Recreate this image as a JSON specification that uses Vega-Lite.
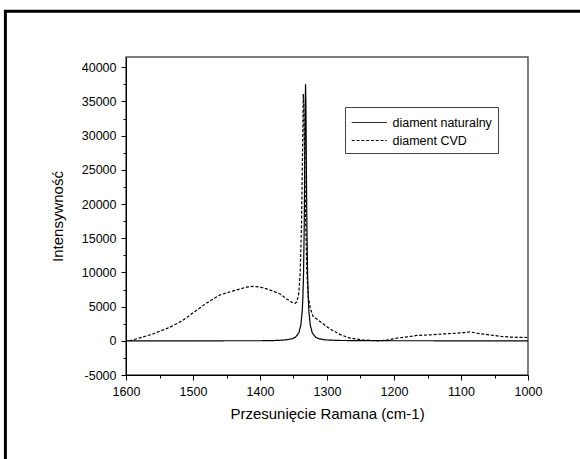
{
  "$schema": "https://vega.github.io/schema/vega-lite/v6.json",
  "width": 402,
  "height": 318,
  "autosize": {"type": "none"},
  "padding": {"left": 126, "top": 57, "right": 52, "bottom": 84},
  "background": "white",
  "config": {
    "view": {"stroke": "#555", "strokeWidth": 1.5},
    "font": "Liberation Sans",
    "axis": {"labelFont": "Liberation Sans", "titleFont": "Liberation Sans", "labelColor": "black", "titleColor": "black", "domainColor": "black", "tickColor": "black", "titleFontWeight": "normal", "grid": false}
  },
  "datasets": {
    "spectra": [
      {"series": "diament naturalny", "x": 1600, "y": 0},
      {"series": "diament naturalny", "x": 1500, "y": 0},
      {"series": "diament naturalny", "x": 1400, "y": 10},
      {"series": "diament naturalny", "x": 1382, "y": 20},
      {"series": "diament naturalny", "x": 1362, "y": 130},
      {"series": "diament naturalny", "x": 1352, "y": 300},
      {"series": "diament naturalny", "x": 1347, "y": 530},
      {"series": "diament naturalny", "x": 1342, "y": 1175},
      {"series": "diament naturalny", "x": 1339, "y": 2330},
      {"series": "diament naturalny", "x": 1337, "y": 4300},
      {"series": "diament naturalny", "x": 1336, "y": 6310},
      {"series": "diament naturalny", "x": 1335, "y": 9920},
      {"series": "diament naturalny", "x": 1334, "y": 16780},
      {"series": "diament naturalny", "x": 1333.5, "y": 22140},
      {"series": "diament naturalny", "x": 1333, "y": 28650},
      {"series": "diament naturalny", "x": 1332.5, "y": 34800},
      {"series": "diament naturalny", "x": 1332, "y": 37500},
      {"series": "diament naturalny", "x": 1331.5, "y": 34800},
      {"series": "diament naturalny", "x": 1331, "y": 28650},
      {"series": "diament naturalny", "x": 1330.5, "y": 22140},
      {"series": "diament naturalny", "x": 1330, "y": 16780},
      {"series": "diament naturalny", "x": 1329, "y": 9920},
      {"series": "diament naturalny", "x": 1328, "y": 6310},
      {"series": "diament naturalny", "x": 1327, "y": 4300},
      {"series": "diament naturalny", "x": 1325, "y": 2330},
      {"series": "diament naturalny", "x": 1322, "y": 1175},
      {"series": "diament naturalny", "x": 1317, "y": 530},
      {"series": "diament naturalny", "x": 1312, "y": 300},
      {"series": "diament naturalny", "x": 1302, "y": 130},
      {"series": "diament naturalny", "x": 1282, "y": 50},
      {"series": "diament naturalny", "x": 1232, "y": 15},
      {"series": "diament naturalny", "x": 1100, "y": 0},
      {"series": "diament naturalny", "x": 1000, "y": 0},
      {"series": "diament CVD", "x": 1595, "y": 0},
      {"series": "diament CVD", "x": 1580, "y": 400},
      {"series": "diament CVD", "x": 1560, "y": 1000},
      {"series": "diament CVD", "x": 1534, "y": 2000},
      {"series": "diament CVD", "x": 1515, "y": 3000},
      {"series": "diament CVD", "x": 1500, "y": 4100},
      {"series": "diament CVD", "x": 1480, "y": 5500},
      {"series": "diament CVD", "x": 1460, "y": 6700},
      {"series": "diament CVD", "x": 1440, "y": 7300},
      {"series": "diament CVD", "x": 1420, "y": 7850},
      {"series": "diament CVD", "x": 1410, "y": 7950},
      {"series": "diament CVD", "x": 1400, "y": 7850},
      {"series": "diament CVD", "x": 1390, "y": 7600},
      {"series": "diament CVD", "x": 1380, "y": 7250},
      {"series": "diament CVD", "x": 1370, "y": 6850},
      {"series": "diament CVD", "x": 1360, "y": 6100},
      {"series": "diament CVD", "x": 1352, "y": 5600},
      {"series": "diament CVD", "x": 1348, "y": 5450},
      {"series": "diament CVD", "x": 1345, "y": 5700},
      {"series": "diament CVD", "x": 1342, "y": 7000},
      {"series": "diament CVD", "x": 1340, "y": 10000},
      {"series": "diament CVD", "x": 1338, "y": 17000},
      {"series": "diament CVD", "x": 1337, "y": 24000},
      {"series": "diament CVD", "x": 1336, "y": 31000},
      {"series": "diament CVD", "x": 1335.4, "y": 36100},
      {"series": "diament CVD", "x": 1334.5, "y": 34000},
      {"series": "diament CVD", "x": 1333.5, "y": 27000},
      {"series": "diament CVD", "x": 1332, "y": 18000},
      {"series": "diament CVD", "x": 1330, "y": 10000},
      {"series": "diament CVD", "x": 1328, "y": 6500},
      {"series": "diament CVD", "x": 1325, "y": 4800},
      {"series": "diament CVD", "x": 1321, "y": 3600},
      {"series": "diament CVD", "x": 1310, "y": 2800},
      {"series": "diament CVD", "x": 1296, "y": 1750},
      {"series": "diament CVD", "x": 1280, "y": 900},
      {"series": "diament CVD", "x": 1266, "y": 400},
      {"series": "diament CVD", "x": 1246, "y": 120},
      {"series": "diament CVD", "x": 1225, "y": 0},
      {"series": "diament CVD", "x": 1210, "y": 100},
      {"series": "diament CVD", "x": 1196, "y": 380},
      {"series": "diament CVD", "x": 1180, "y": 580},
      {"series": "diament CVD", "x": 1166, "y": 780},
      {"series": "diament CVD", "x": 1145, "y": 880},
      {"series": "diament CVD", "x": 1127, "y": 1000},
      {"series": "diament CVD", "x": 1100, "y": 1150},
      {"series": "diament CVD", "x": 1087, "y": 1300},
      {"series": "diament CVD", "x": 1075, "y": 1100},
      {"series": "diament CVD", "x": 1057, "y": 850},
      {"series": "diament CVD", "x": 1040, "y": 650},
      {"series": "diament CVD", "x": 1027, "y": 540},
      {"series": "diament CVD", "x": 1000, "y": 480}
    ]
  },
  "resolve": {"axis": {"x": "independent", "y": "independent"}},
  "layer": [
    {
      "data": {"values": [{}]},
      "mark": {"type": "rect", "fill": null, "fillOpacity": 0, "stroke": "black", "strokeWidth": 3, "clip": false},
      "encoding": {
        "x": {"datum": 1780, "type": "quantitative", "scale": {"domain": [1000, 1600], "reverse": true, "nice": false, "zero": false},
          "axis": {"orient": "bottom", "title": null, "labels": false, "domain": false, "tickSize": 3, "values": [1050, 1150, 1250, 1350, 1450, 1550]}},
        "x2": {"datum": 900},
        "y": {"datum": 48200, "type": "quantitative", "scale": {"domain": [-5000, 41500], "nice": false, "zero": false},
          "axis": {"orient": "left", "title": null, "labels": false, "domain": false, "tickSize": 3, "values": [-2500, 2500, 7500, 12500, 17500, 22500, 27500, 32500, 37500]}},
        "y2": {"datum": -19000}
      }
    },
    {
      "data": {"name": "spectra"},
      "mark": {"type": "line", "color": "black", "strokeWidth": 1.2},
      "encoding": {
        "x": {
          "field": "x", "type": "quantitative",
          "scale": {"domain": [1000, 1600], "reverse": true, "nice": false, "zero": false},
          "axis": {
            "orient": "bottom",
            "title": "Przesunięcie Ramana (cm-1)",
            "values": [1000, 1100, 1200, 1300, 1400, 1500, 1600],
            "labelExpr": "toString(datum.value)",
            "tickSize": 5,
            "labelFontSize": 12.5,
            "titleFontSize": 15,
            "labelPadding": 5,
            "titlePadding": 9,
            "labelFlush": false,
            "labelOverlap": false
          }
        },
        "y": {
          "field": "y", "type": "quantitative",
          "scale": {"domain": [-5000, 41500], "nice": false, "zero": false},
          "axis": {
            "orient": "left",
            "title": "Intensywność",
            "values": [-5000, 0, 5000, 10000, 15000, 20000, 25000, 30000, 35000, 40000],
            "labelExpr": "toString(datum.value)",
            "tickSize": 5,
            "labelFontSize": 12.5,
            "titleFontSize": 15,
            "labelPadding": 5,
            "titlePadding": 16,
            "labelFlush": false,
            "labelOverlap": false
          }
        },
        "strokeDash": {
          "field": "series", "type": "nominal",
          "scale": {"domain": ["diament naturalny", "diament CVD"], "range": [[1, 0], [3, 1.8]]},
          "legend": {
            "orient": "none", "legendX": 219, "legendY": 50,
            "title": null,
            "symbolType": "M-1,0L3,0", "symbolSize": 306, "symbolStrokeWidth": 1, "symbolStrokeColor": "black",
            "labelFontSize": 12.5, "labelFont": "Liberation Sans", "labelColor": "black",
            "strokeColor": "#444", "fillColor": "white", "padding": 6, "labelOffset": 22.5, "rowPadding": 2
          }
        }
      }
    }
  ]
}
